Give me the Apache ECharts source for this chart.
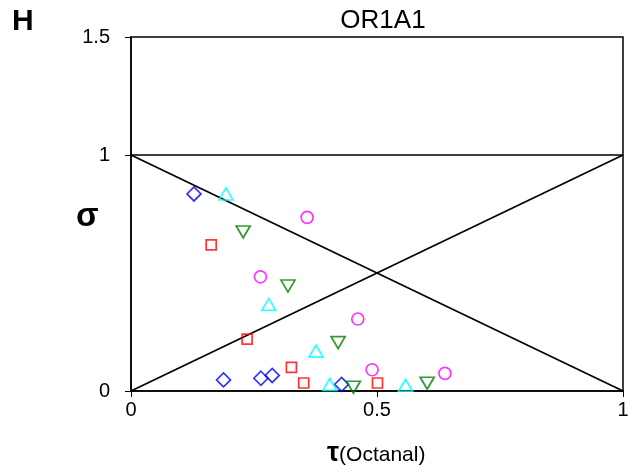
<!DOCTYPE html>
<html>
<head>
<meta charset="utf-8">
<script src="https://cdn.jsdelivr.net/npm/echarts@6/dist/echarts.min.js"></script>
<style>
  html, body { margin: 0; padding: 0; background: #fff; }
  #chart { width: 632px; height: 472px; }
</style>
</head>
<body>
<div id="chart"></div>
<script>
// Odorant response points, [tau, sigma] for each marker group
const blueDiamonds = [[0.128, 0.835], [0.188, 0.047], [0.264, 0.054], [0.287, 0.066], [0.428, 0.028]];
const cyanTriangles = [[0.193, 0.835], [0.280, 0.367], [0.376, 0.169], [0.404, 0.028], [0.558, 0.024]];
const magentaCircles = [[0.358, 0.736], [0.263, 0.484], [0.461, 0.305], [0.490, 0.090], [0.638, 0.075]];
const greenDownTriangles = [[0.228, 0.674], [0.319, 0.445], [0.421, 0.205], [0.452, 0.016], [0.602, 0.033]];
const redSquares = [[0.163, 0.619], [0.236, 0.220], [0.326, 0.100], [0.351, 0.034], [0.501, 0.034]];

// Reference lines
const descendingLine = [[0, 1], [1, 0]];
const ascendingLine = [[0, 0], [1, 1]];
const unityLine = [[0, 1], [1, 1]];

// Axis ticks
const xTicks = [0, 0.5, 1];
const yTicks = [0, 1, 1.5];

const FONT = 'Liberation Sans, Arial, sans-serif';

const chart = echarts.init(document.getElementById('chart'), null, { renderer: 'canvas' });

function refLine(data) {
  return {
    type: 'line', data: data, symbol: 'none', silent: true, z: 1,
    lineStyle: { color: '#000', width: 1.7 }
  };
}

function markers(data, symbol, size, color, rotate) {
  return {
    type: 'scatter', data: data, symbol: symbol, symbolSize: size,
    symbolRotate: rotate || 0, z: 3,
    itemStyle: { color: 'rgba(0,0,0,0)', borderColor: color, borderWidth: 1.7 }
  };
}

chart.setOption({
  animation: false,
  backgroundColor: '#fff',
  grid: { left: 131, right: 9, top: 37, bottom: 81, show: true, borderColor: '#000', borderWidth: 1.5 },
  title: {
    text: 'OR1A1', left: 378, top: 3, textAlign: 'center',
    textStyle: { fontFamily: FONT, fontSize: 26, fontWeight: 'normal', color: '#000' }
  },
  graphic: [
    { type: 'text', left: 12, top: 7, style: { text: 'H', font: 'bold 30px ' + FONT, fill: '#000' } },
    { type: 'text', left: 76, top: 200, style: { text: 'σ', font: 'bold 33px ' + FONT, fill: '#000' } },
    {
      type: 'text', left: 327, top: 440,
      style: {
        text: '{t|τ}{o|(Octanal)}',
        rich: {
          t: { font: 'bold 27px ' + FONT, fill: '#000' },
          o: { font: '21px ' + FONT, fill: '#000', padding: [3, 0, 0, 0] }
        }
      }
    }
  ],
  xAxis: {
    type: 'value', min: 0, max: 1, interval: 0.5,
    axisLine: { show: true, lineStyle: { color: '#000', width: 1.5 } },
    axisTick: { show: true, length: 6, lineStyle: { color: '#000' }, customValues: xTicks },
    axisLabel: { customValues: xTicks, margin: 9, fontFamily: FONT, fontSize: 20, color: '#000',
      formatter: v => String(v) },
    splitLine: { show: false }
  },
  yAxis: {
    type: 'value', min: 0, max: 1.5, interval: 0.5,
    axisLine: { show: true, lineStyle: { color: '#000', width: 1.5 } },
    axisTick: { show: true, length: 6, lineStyle: { color: '#000' }, customValues: yTicks },
    axisLabel: { customValues: yTicks, margin: 21, fontFamily: FONT, fontSize: 20, color: '#000',
      formatter: v => String(v) },
    splitLine: { show: false }
  },
  series: [
    refLine(descendingLine),
    refLine(ascendingLine),
    refLine(unityLine),
    markers(blueDiamonds, 'diamond', [14, 14], '#0000ff'),
    markers(cyanTriangles, 'triangle', [14, 12], '#00ffff'),
    markers(magentaCircles, 'circle', 12, '#ff00ff'),
    markers(greenDownTriangles, 'triangle', [14, 12], '#008000', 180),
    markers(redSquares, 'rect', 10, '#ff0000')
  ]
});
</script>
</body>
</html>
